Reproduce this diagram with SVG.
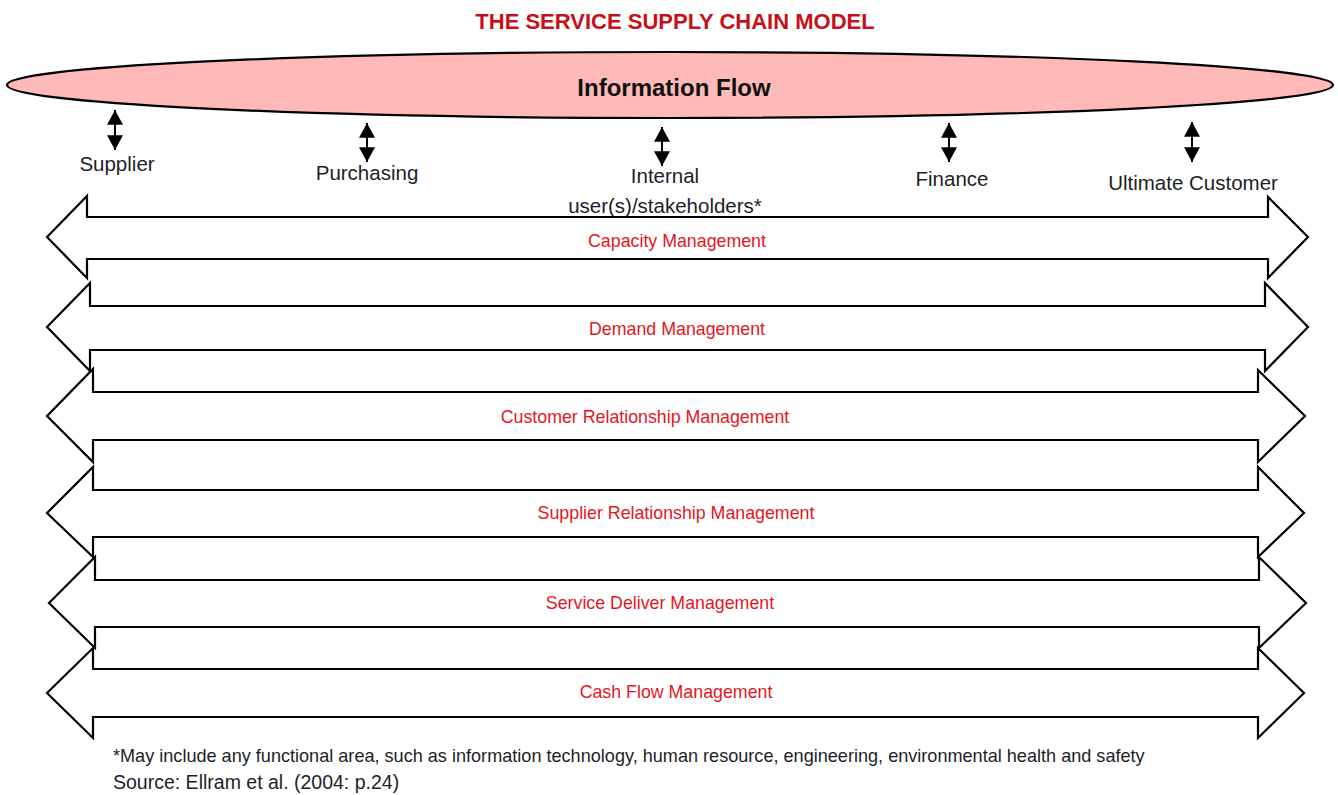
<svg xmlns="http://www.w3.org/2000/svg" width="1338" height="795" viewBox="0 0 1338 795">
  <style>
    .lbl { font-family: "Liberation Sans", Arial, sans-serif; font-size: 20.5px; fill: #1e1e28; text-anchor: middle; }
    .red { font-family: "Liberation Sans", Arial, sans-serif; font-size: 17.8px; fill: #e3161f; text-anchor: middle; }
    .blk { fill: #ffffff; stroke: #000000; stroke-width: 2.2; stroke-linejoin: miter; }
    .note { font-family: "Liberation Sans", Arial, sans-serif; fill: #1e1e28; }
    .conn { stroke: #000000; stroke-width: 2; fill: none; }
  </style>
  <defs>
    <marker id="ah" markerUnits="userSpaceOnUse" markerWidth="16" markerHeight="16" refX="13" refY="7" orient="auto-start-reverse" viewBox="0 0 14 14">
      <path d="M0,0 L13,7 L0,14 Z" fill="#000000"/>
    </marker>
  </defs>
  <rect width="1338" height="795" fill="#ffffff"/>

  <g id="title">
    <text x="675" y="29" font-family="'Liberation Sans', Arial, sans-serif" font-size="22" font-weight="bold" fill="#c8101a" text-anchor="middle">THE SERVICE SUPPLY CHAIN MODEL</text>
  </g>

  <g id="information-flow">
    <ellipse cx="670" cy="85" rx="663" ry="33" fill="#ffb9b9" stroke="#000000" stroke-width="2.2"/>
    <text x="674" y="96" font-family="'Liberation Sans', Arial, sans-serif" font-size="24" font-weight="bold" fill="#111111" text-anchor="middle">Information Flow</text>
  </g>

  <g id="supplier"><text class="lbl" x="117" y="171">Supplier</text></g>
  <g id="purchasing"><text class="lbl" x="367" y="180">Purchasing</text></g>
  <g id="internal"><text class="lbl" x="665" y="183">Internal</text><text class="lbl" x="665" y="213">user(s)/stakeholders*</text></g>
  <g id="finance"><text class="lbl" x="952" y="186">Finance</text></g>
  <g id="ultimate-customer"><text class="lbl" x="1193" y="190">Ultimate Customer</text></g>

  <g id="connectors">
    <line class="conn" x1="115" y1="110" x2="115" y2="150" marker-start="url(#ah)" marker-end="url(#ah)"/>
    <line class="conn" x1="367" y1="123" x2="367" y2="162" marker-start="url(#ah)" marker-end="url(#ah)"/>
    <line class="conn" x1="662" y1="127" x2="662" y2="166" marker-start="url(#ah)" marker-end="url(#ah)"/>
    <line class="conn" x1="949" y1="123" x2="949" y2="162" marker-start="url(#ah)" marker-end="url(#ah)"/>
    <line class="conn" x1="1192" y1="122" x2="1192" y2="162" marker-start="url(#ah)" marker-end="url(#ah)"/>
  </g>

  <g id="capacity-management">
    <polygon class="blk" points="47,237 87,196 87,217 1268,217 1268,197 1308,237 1268,278 1268,259 87,259 87,278"/>
    <text class="red" x="677" y="247">Capacity Management</text>
  </g>
  <g id="demand-management">
    <polygon class="blk" points="47,327 90,283 90,306 1265,306 1265,283 1308,327 1265,371 1265,350 90,350 90,371"/>
    <text class="red" x="677" y="335">Demand Management</text>
  </g>
  <g id="customer-relationship-management">
    <polygon class="blk" points="47,416 93,369 93,392 1258,392 1258,370 1305,416 1258,462 1258,440 93,440 93,462"/>
    <text class="red" x="645" y="423">Customer Relationship Management</text>
  </g>
  <g id="supplier-relationship-management">
    <polygon class="blk" points="47,513 93,467 93,490 1258,490 1258,467 1304,513 1258,557 1258,537 93,537 93,557"/>
    <text class="red" x="676" y="519">Supplier Relationship Management</text>
  </g>
  <g id="service-deliver-management">
    <polygon class="blk" points="49,603 95,557 95,580 1259,580 1259,557 1306,603 1259,648 1259,627 95,627 95,648"/>
    <text class="red" x="660" y="609">Service Deliver Management</text>
  </g>
  <g id="cash-flow-management">
    <polygon class="blk" points="47,693 93,648 93,669 1258,669 1258,648 1304,693 1258,738 1258,717 93,717 93,738"/>
    <text class="red" x="676" y="698">Cash Flow Management</text>
  </g>

  <g id="notes">
    <text class="note" x="113" y="762" font-size="18.1">*May include any functional area, such as information technology, human resource, engineering, environmental health and safety</text>
    <text class="note" x="113" y="789" font-size="19.5">Source: Ellram et al. (2004: p.24)</text>
  </g>
</svg>
